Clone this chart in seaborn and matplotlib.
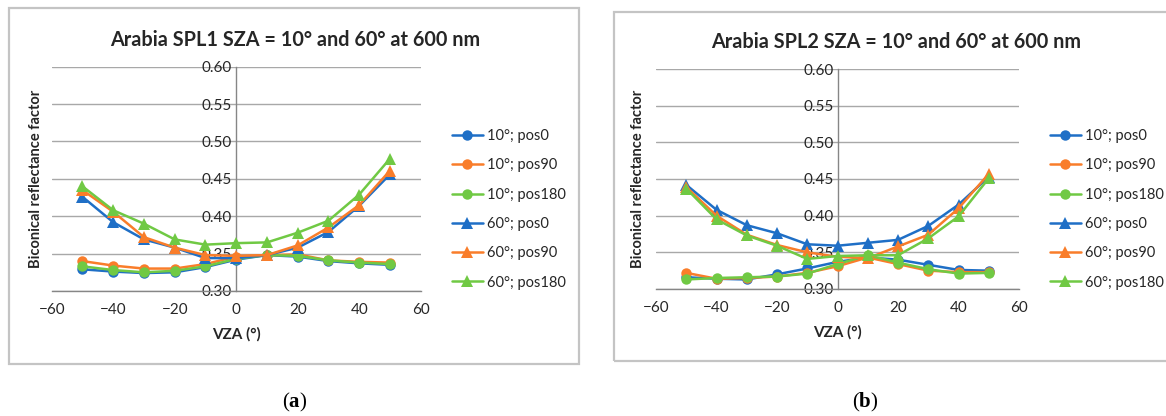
import numpy as np
import pandas as pd
import matplotlib
matplotlib.use('Agg')
import matplotlib.pyplot as plt
import seaborn as sns
from matplotlib.patches import Rectangle

# data
vza = [-50, -40, -30, -20, -10, 0, 10, 20, 30, 40, 50]

spl1_10_pos0 = [0.329, 0.326, 0.324, 0.325, 0.332, 0.342, 0.348, 0.346, 0.340, 0.337, 0.335]
spl1_10_pos90 = [0.340, 0.334, 0.330, 0.330, 0.336, 0.346, 0.348, 0.349, 0.341, 0.339, 0.338]
spl1_10_pos180 = [0.333, 0.328, 0.325, 0.327, 0.333, 0.343, 0.348, 0.347, 0.341, 0.338, 0.336]
spl1_60_pos0 = [0.426, 0.392, 0.369, 0.358, 0.344, 0.344, 0.348, 0.358, 0.379, 0.414, 0.456]
spl1_60_pos90 = [0.435, 0.406, 0.372, 0.358, 0.348, 0.347, 0.348, 0.361, 0.385, 0.415, 0.461]
spl1_60_pos180 = [0.440, 0.408, 0.390, 0.369, 0.362, 0.364, 0.365, 0.378, 0.394, 0.429, 0.477]

spl2_10_pos0 = [0.316, 0.314, 0.313, 0.320, 0.328, 0.337, 0.343, 0.340, 0.333, 0.326, 0.325]
spl2_10_pos90 = [0.322, 0.314, 0.315, 0.317, 0.322, 0.331, 0.343, 0.334, 0.325, 0.323, 0.323]
spl2_10_pos180 = [0.313, 0.315, 0.316, 0.317, 0.321, 0.334, 0.346, 0.336, 0.327, 0.321, 0.322]
spl2_60_pos0 = [0.442, 0.408, 0.387, 0.376, 0.361, 0.359, 0.363, 0.367, 0.386, 0.415, 0.453]
spl2_60_pos90 = [0.439, 0.400, 0.374, 0.360, 0.350, 0.344, 0.342, 0.358, 0.374, 0.410, 0.457]
spl2_60_pos180 = [0.437, 0.395, 0.373, 0.359, 0.341, 0.345, 0.346, 0.346, 0.369, 0.399, 0.451]

labels = ['10°; pos0', '10°; pos90', '10°; pos180', '60°; pos0', '60°; pos90', '60°; pos180']
titles = ['Arabia SPL1 SZA = 10° and 60° at 600 nm', 'Arabia SPL2 SZA = 10° and 60° at 600 nm']
panel_tags = ['a', 'b']

colors = ['#1f6fc6', '#f97d2a', '#70c944'] * 2
markers = ['o'] * 3 + ['^'] * 3

panels = [
    [spl1_10_pos0, spl1_10_pos90, spl1_10_pos180, spl1_60_pos0, spl1_60_pos90, spl1_60_pos180],
    [spl2_10_pos0, spl2_10_pos90, spl2_10_pos180, spl2_60_pos0, spl2_60_pos90, spl2_60_pos180],
]

sns.set_style('white')
plt.rcParams['font.family'] = ['Lato', 'DejaVu Sans']
plt.rcParams['mathtext.fontset'] = 'custom'
plt.rcParams['mathtext.rm'] = 'Liberation Serif'
plt.rcParams['mathtext.bf'] = 'Liberation Serif:bold'

W, H = 1166, 416
fig = plt.figure(figsize=(W / 100, H / 100), dpi=100)

def fx(px):
    return px / W

def fy(py):
    return 1 - py / H

# pixel layout of each panel
layout = [
    dict(pl=51.7, pr=420.7, pt=66.7, pb=291, box=(9, 8, 579, 364), leg=452, title=295, tag=295, ylab=43),
    dict(pl=656, pr=1019, pt=69, pb=289, box=(614, 12, 1175, 361), leg=1050, title=896, tag=865, ylab=645),
]

text_col = '#262626'
axis_col = '#868686'

for i, (series, L) in enumerate(zip(panels, layout)):
    x0, y0, x1, y1 = L['box']
    fig.patches.append(Rectangle((fx(x0), fy(y1)), fx(x1 - x0), (y1 - y0) / H,
                                 transform=fig.transFigure, fill=False,
                                 edgecolor='#c4c4c4', linewidth=1.6))

    ax = fig.add_axes([fx(L['pl']), fy(L['pb']), fx(L['pr'] - L['pl']), (L['pb'] - L['pt']) / H])
    ax.patch.set_alpha(0)

    for vals, lab, c, m in zip(series, labels, colors, markers):
        df = pd.DataFrame({'VZA': vza, 'BRF': vals})
        sns.lineplot(data=df, x='VZA', y='BRF', ax=ax, color=c, marker=m,
                     markersize=7.5 if m == 'o' else 8, markeredgewidth=0,
                     linewidth=1.8, label=lab, legend=False, zorder=3)

    ax.set_xlim(-60, 60)
    ax.set_ylim(0.30, 0.60)
    ax.set_xticks(np.arange(-60, 61, 20))
    ax.set_yticks(np.arange(0.30, 0.601, 0.05))
    ax.set_yticklabels([f'{v:.2f}' for v in np.arange(0.30, 0.601, 0.05)])
    ax.yaxis.grid(True, color='#a8a8a8', linewidth=1.0, zorder=0)
    ax.xaxis.grid(False)
    ax.set_axisbelow(True)

    for s in ['top', 'right']:
        ax.spines[s].set_visible(False)
    ax.spines['left'].set_position(('data', 0))
    ax.spines['left'].set_color(axis_col)
    ax.spines['bottom'].set_color(axis_col)
    ax.spines['left'].set_linewidth(1.0)
    ax.spines['bottom'].set_linewidth(1.0)

    ax.tick_params(axis='y', length=0, pad=3, labelsize=11, labelcolor=text_col)
    ax.tick_params(axis='x', direction='out', length=5, width=1, color=axis_col,
                   pad=4, labelsize=11, labelcolor=text_col)

    ax.set_xlabel('VZA (°)', fontsize=11, fontweight='bold', color=text_col, labelpad=7)
    ax.set_ylabel('Biconical reflectance factor', fontsize=10.5, fontweight='bold', color=text_col)
    ax.yaxis.set_label_coords((L['ylab'] - L['pl']) / (L['pr'] - L['pl']), 0.5)

    fig.text(fx(L['title']), fy(40 if i == 0 else 42), titles[i], ha='center', va='center',
             fontsize=14.3, fontweight='bold', color=text_col)

    handles, labs = ax.get_legend_handles_labels()
    fig.legend(handles, labs, loc='upper left', bbox_to_anchor=(fx(L['leg']), fy(129)),
               frameon=False, fontsize=10.5, handlelength=2.1, handletextpad=0.28,
               labelspacing=1.05, borderpad=0, borderaxespad=0, labelcolor=text_col)

    fig.text(fx(L['tag']), fy(402), r'($\mathbf{%s}$)' % panel_tags[i], ha='center', va='center',
             fontsize=15, family='Liberation Serif', color='black')

fig.savefig('out.png', dpi=100)
